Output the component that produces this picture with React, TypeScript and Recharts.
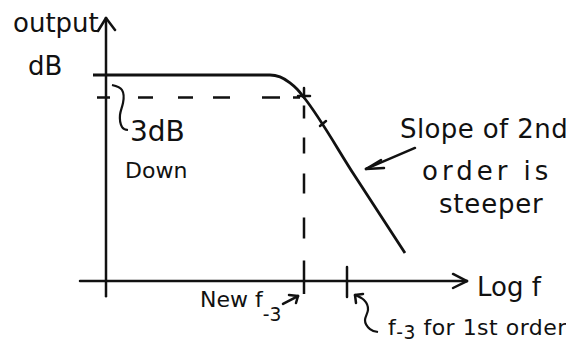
import { ComposedChart, Line, Scatter, XAxis, YAxis, ReferenceLine } from 'recharts';

// x is log f (arbitrary decades measured from the vertical axis), y is output in dB
const LOGF_DOMAIN = [-2.5, 11.5];
const DB_DOMAIN = [-36, 10];

// 2nd order response: flat at 0 dB, -3 dB at the new corner, then the steeper roll-off
const RESPONSE = [
  { lf: -0.325, db: 0 },
  { lf: 4.1, db: 0 },
  { lf: 4.35, db: -0.25 },
  { lf: 4.6, db: -1.05 },
  { lf: 4.78, db: -1.9 },
  { lf: 4.95, db: -3 },
  { lf: 6.21, db: -13.37 },
  { lf: 7.475, db: -23.73 },
];

// hand drawn brace pointing at the 3 dB gap
const BRACE = [
  { lf: 0.15, db: -1.33 },
  { lf: 0.4, db: -2.0 },
  { lf: 0.425, db: -3.73 },
  { lf: 0.35, db: -5.33 },
  { lf: 0.4, db: -6.93 },
  { lf: 0.55, db: -7.33 },
];

// wiggly arrow tail under the 1st order corner
const FOOT_SQUIGGLE = [
  { lf: 6.225, db: -29.33 },
  { lf: 6.45, db: -30.0 },
  { lf: 6.55, db: -31.33 },
  { lf: 6.475, db: -32.67 },
  { lf: 6.6, db: -33.87 },
  { lf: 6.8, db: -34.27 },
];

type Pt = { x: number; y: number };
type Seg = [Pt, Pt];
const seg = (x1: number, y1: number, x2: number, y2: number): Seg => [
  { x: x1, y: y1 },
  { x: x2, y: y2 },
];

const AXIS_SEGMENTS: Seg[] = [
  seg(0, 7.6, 0, -29.5), // output axis
  seg(0, 7.6, -0.2, 5.87),
  seg(0, 7.6, 0.225, 6.0),
  seg(-0.65, -27.47, 9.025, -27.47), // log f axis
  seg(9.025, -27.47, 8.675, -26.53),
  seg(9.025, -27.47, 8.675, -28.4),
  seg(6.025, -25.6, 6.025, -29.6), // 1st order f-3 tick
];

const MARK_SEGMENTS: Seg[] = [
  seg(4.95, -1.73, 4.95, -3), // cross at the -3 dB point
  seg(4.8, -2.8, 5.1, -2.8),
  seg(5.35, -6.8, 5.5, -6.13), // small tick on the slope
  seg(7.725, -9.73, 6.5, -12.53), // slope arrow
  seg(6.5, -12.53, 6.875, -11.33),
  seg(6.5, -12.53, 6.95, -12.4),
  seg(4.425, -30.53, 4.8, -29.47), // new f-3 arrow
  seg(4.8, -29.47, 4.575, -29.33),
  seg(4.8, -29.47, 4.75, -30.4),
  seg(6.225, -29.33, 6.425, -29.2), // 1st order arrow head
  seg(6.225, -29.33, 6.25, -30.4),
];

const DASH_3DB = seg(-0.225, -3, 4.85, -3);
const DASH_CORNER = seg(4.95, -3, 4.95, -29.2);

interface Note {
  lf: number;
  db: number;
  text: string;
  size: number;
  spacing?: number;
  sub?: string;
  post?: string;
  subDy?: number;
}

const NOTES: Note[] = [
  { lf: -2.325, db: 5.73, text: 'output', size: 26 },
  { lf: -1.95, db: 0, text: 'dB', size: 26 },
  { lf: 0.6, db: -8.8, text: '3dB', size: 28 },
  { lf: 0.475, db: -13.73, text: 'Down', size: 22 },
  { lf: 7.35, db: -8.4, text: 'Slope of 2nd', size: 26, spacing: 0.4 },
  { lf: 7.9, db: -14, text: 'order is', size: 26, spacing: 4 },
  { lf: 8.325, db: -18.4, text: 'steeper', size: 26, spacing: 0.8 },
  { lf: 9.275, db: -29.47, text: 'Log f', size: 26 },
  { lf: 2.35, db: -30.93, text: 'New f', size: 22, sub: '-3', subDy: 14 },
  { lf: 7.05, db: -34.67, text: 'f', size: 22, spacing: 0.5, sub: '-3', subDy: 4, post: ' for 1st order' },
];

const INK = '#111';
const FONT = '"DejaVu Sans", "Liberation Sans", sans-serif';

function NoteText(props: any) {
  const { cx, cy, payload } = props;
  const n = payload as Note;
  return (
    <text x={cx} y={cy} fontFamily={FONT} fontSize={n.size} letterSpacing={n.spacing ?? 0} fill={INK}>
      <tspan>{n.text}</tspan>
      {n.sub && (
        <tspan dy={n.subDy} fontSize={n.size * 0.85}>
          {n.sub}
        </tspan>
      )}
      {n.post && <tspan dy={-(n.subDy ?? 0)}>{n.post}</tspan>}
    </text>
  );
}

export default function App() {
  return (
    <div style={{ width: 584, height: 349, background: '#fff' }}>
      <style>{'body{margin:0}'}</style>
      <ComposedChart width={584} height={349} margin={{ top: 0, right: 18, bottom: 4, left: 6 }}>
        <XAxis type="number" dataKey="lf" domain={LOGF_DOMAIN} allowDataOverflow hide />
        <YAxis type="number" dataKey="db" domain={DB_DOMAIN} allowDataOverflow hide />

        {AXIS_SEGMENTS.map((s, i) => (
          <ReferenceLine key={`ax-${i}`} segment={s} stroke={INK} strokeWidth={2.5} strokeLinecap="round" />
        ))}
        <ReferenceLine
          segment={DASH_3DB}
          stroke={INK}
          strokeWidth={2.5}
          strokeDasharray="13 28 15 25 15 20 17 32 18 13 7 100"
        />
        <ReferenceLine
          segment={DASH_CORNER}
          stroke={INK}
          strokeWidth={2.5}
          strokeDasharray="0 8 13 19 16 20 20 24 21 22 34 100"
        />
        {MARK_SEGMENTS.map((s, i) => (
          <ReferenceLine key={`mk-${i}`} segment={s} stroke={INK} strokeWidth={2.5} strokeLinecap="round" />
        ))}

        <Line
          data={RESPONSE}
          dataKey="db"
          type="monotone"
          stroke={INK}
          strokeWidth={2.8}
          dot={false}
          isAnimationActive={false}
        />
        <Line
          data={BRACE}
          dataKey="db"
          type="natural"
          stroke={INK}
          strokeWidth={2.2}
          dot={false}
          isAnimationActive={false}
        />
        <Line
          data={FOOT_SQUIGGLE}
          dataKey="db"
          type="natural"
          stroke={INK}
          strokeWidth={2.2}
          dot={false}
          isAnimationActive={false}
        />
        <Scatter data={NOTES} dataKey="db" shape={(p: any) => <NoteText {...p} />} isAnimationActive={false} />
      </ComposedChart>
    </div>
  );
}
